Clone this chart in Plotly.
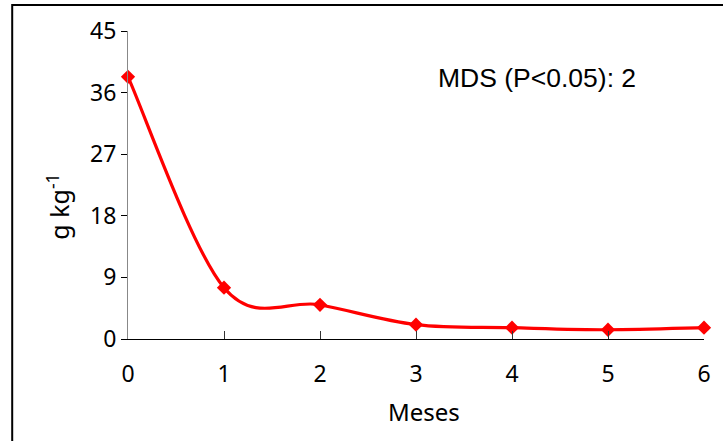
import plotly.graph_objects as go

# Concentration over time (g kg-1) by month
meses = [0, 1, 2, 3, 4, 5, 6]
valores = [38.3, 7.5, 5.0, 2.1, 1.65, 1.35, 1.65]

y_ticks = [0, 9, 18, 27, 36, 45]
x_ticks = [0, 1, 2, 3, 4, 5, 6]

W, H = 723, 441
ML, MR, MT, MB = 128, 13, 31, 102
PW, PH = W - ML - MR, H - MT - MB


def px_to_paper_x(px):
    return (px - ML) / PW


def px_to_paper_y(py):
    return (H - MB - py) / PH


def smooth_path(xs, ys):
    """Cubic Bezier path (data coordinates) through every point,
    with Catmull-Rom style control points."""
    n = len(xs)
    parts = [f"M {xs[0]},{ys[0]}"]
    for i in range(n - 1):
        i0, i3 = max(i - 1, 0), min(i + 2, n - 1)
        c1x = xs[i] + (xs[i + 1] - xs[i0]) / 6
        c1y = ys[i] + (ys[i + 1] - ys[i0]) / 6
        c2x = xs[i + 1] - (xs[i3] - xs[i]) / 6
        c2y = ys[i + 1] - (ys[i3] - ys[i]) / 6
        parts.append(f"C {c1x},{c1y} {c2x},{c2y} {xs[i + 1]},{ys[i + 1]}")
    return " ".join(parts)


FONT = "Noto Sans"
RED = "#FF0000"

fig = go.Figure()
fig.add_trace(go.Scatter(
    x=meses, y=valores,
    mode="markers",
    marker=dict(symbol="diamond", size=11, color=RED),
    cliponaxis=False,
    showlegend=False,
))

fig.update_layout(
    width=W, height=H,
    margin=dict(l=ML, r=MR, t=MT, b=MB, pad=0),
    paper_bgcolor="white",
    plot_bgcolor="white",
    font=dict(family=FONT, color="black", size=22),
    xaxis=dict(
        range=[0, 6], tickvals=x_ticks, ticktext=[str(v) for v in x_ticks],
        showgrid=False, zeroline=False,
        showline=True, linecolor="black", linewidth=1,
        ticks="inside", ticklen=8, tickcolor="#333", tickwidth=1,
        ticklabelstandoff=14,
        tickfont=dict(family=FONT, size=23),
    ),
    yaxis=dict(
        range=[0, 45], tickvals=y_ticks, ticktext=[str(v) for v in y_ticks],
        showgrid=False, zeroline=False,
        showline=True, linecolor="#888", linewidth=1,
        ticks="outside", ticklen=6, tickcolor="black", tickwidth=1,
        tickfont=dict(family=FONT, size=23),
    ),
    annotations=[
        dict(text="MDS (P<0.05): 2", xref="paper", yref="paper",
             x=px_to_paper_x(439), y=px_to_paper_y(78),
             xanchor="left", yanchor="middle", showarrow=False,
             font=dict(family="Liberation Sans", size=26.5)),
        dict(text="Meses", xref="paper", yref="paper",
             x=px_to_paper_x(427), y=px_to_paper_y(411),
             xanchor="center", yanchor="middle", showarrow=False,
             font=dict(family=FONT, size=24)),
        dict(text="g kg<sup>-1</sup>", xref="paper", yref="paper",
             x=px_to_paper_x(57), y=px_to_paper_y(207),
             xanchor="center", yanchor="middle", textangle=-90,
             showarrow=False, font=dict(family=FONT, size=25)),
    ],
    shapes=[
        # smoothed series line, drawn under the markers
        dict(type="path", xref="x", yref="y",
             path=smooth_path(meses, valores),
             line=dict(color=RED, width=3.2), layer="below"),
        # outer frame
        dict(type="rect", xref="paper", yref="paper",
             x0=px_to_paper_x(11), x1=px_to_paper_x(W + 20),
             y0=px_to_paper_y(H + 20), y1=px_to_paper_y(5),
             line=dict(color="black", width=2), fillcolor="rgba(0,0,0,0)",
             layer="above"),
    ],
)

fig.write_html("out.html")
